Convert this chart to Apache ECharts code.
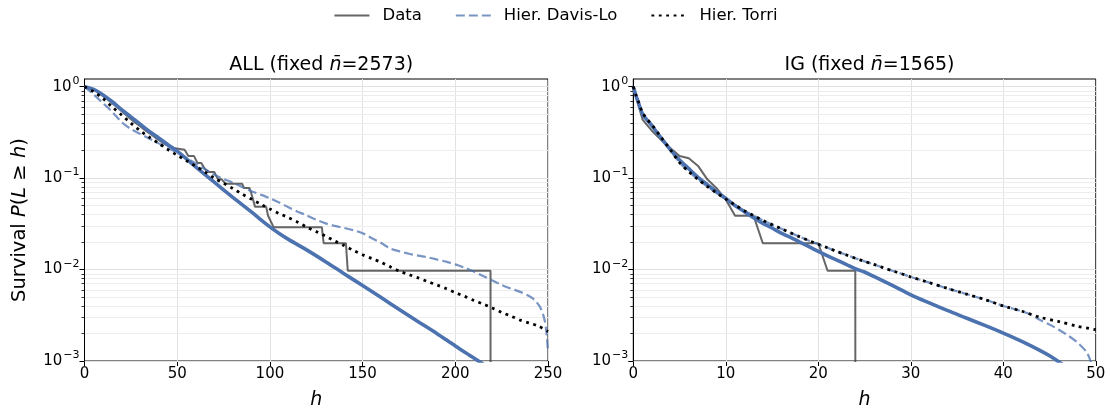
<!DOCTYPE html>
<html><head><meta charset="utf-8">
<script src="https://cdn.jsdelivr.net/npm/echarts@6/dist/echarts.min.js"></script>
<style>html,body{margin:0;padding:0;background:#fff}#c{width:1111px;height:412px}</style>
</head><body><div id="c"></div>
<script>
// ---------- ALL panel (fixed n̄=2573) ----------
const allDataH = [0,3,6,9,12,15,18,21,24,27,30,33,36,39,42,45,48,49,54,56,59,61,63,65,66,67,70,72,74,76,85,86,89,90,92,98,99,100,102,128,129,141,142,219,220];
const allDataP = [1.0,0.96,0.90,0.82,0.74,0.66,0.59,0.52,0.46,0.41,0.37,0.33,0.30,0.27,0.245,0.225,0.214,0.204,0.204,0.175,0.175,0.146,0.146,0.126,0.126,0.117,0.117,0.097,0.097,0.087,0.087,0.078,0.078,0.068,0.0485,0.0485,0.0388,0.0388,0.0291,0.0291,0.0194,0.0194,0.0097,0.0097,0];

const allModelH = [0,5,10,15,20,25,30,35,40,45,50,60,70,80,90,95,100,105,110,120,130,140,150,160,170,180,190,200,210,220];
const allModelP = [1.0,0.933,0.813,0.684,0.562,0.468,0.389,0.324,0.275,0.232,0.197,0.133,0.0902,0.0617,0.0427,0.0352,0.0293,0.0248,0.0214,0.0163,0.0122,0.00902,0.00668,0.00495,0.00363,0.00269,0.00200,0.00146,0.00108,0.00079];

const allDavisH = [0,5,10,15,20,25,30,35,40,45,50,55,60,65,70,75,80,85,90,95,100,105,110,115,120,125,130,135,140,145,150,155,160,165,170,175,180,185,190,195,200,205,210,215,220,225,230,235,240,243,246,248,249,250];
const allDavisP = [1.0,0.82,0.66,0.53,0.41,0.345,0.305,0.27,0.24,0.213,0.19,0.165,0.145,0.125,0.109,0.098,0.089,0.080,0.072,0.066,0.060,0.054,0.048,0.043,0.039,0.035,0.032,0.030,0.0285,0.027,0.025,0.022,0.0195,0.017,0.0158,0.0149,0.0142,0.0136,0.0129,0.0122,0.0114,0.0105,0.0095,0.0085,0.0076,0.0068,0.0062,0.0057,0.0051,0.0046,0.0038,0.0029,0.0022,0.0013];

const allTorriH = [0,5,10,15,20,25,30,35,40,45,50,55,60,65,70,75,80,85,90,95,100,105,110,115,120,125,130,135,140,145,150,155,160,165,170,175,180,185,190,195,200,205,210,215,220,225,230,235,240,245,250];
const allTorriP = [1.0,0.88,0.74,0.60,0.49,0.40,0.33,0.28,0.24,0.205,0.178,0.155,0.135,0.117,0.100,0.088,0.077,0.067,0.059,0.052,0.046,0.041,0.037,0.033,0.029,0.026,0.0232,0.0205,0.0183,0.0162,0.0145,0.0132,0.0120,0.0107,0.0096,0.0088,0.0081,0.0074,0.0068,0.0062,0.0056,0.0051,0.0046,0.0042,0.0038,0.0034,0.0031,0.0028,0.0026,0.0024,0.0021];

// ---------- IG panel (fixed n̄=1565) ----------
const igDataH = [0,1,2,3,4,5,6,7,8,9,10,11,12,13,14,15,16,17,18,19,20,21,22,23,24,25];
const igDataP = [1.0,0.437,0.33,0.262,0.214,0.175,0.165,0.136,0.097,0.0777,0.0583,0.0388,0.0388,0.0388,0.0194,0.0194,0.0194,0.0194,0.0194,0.0194,0.0194,0.0097,0.0097,0.0097,0.0097,0];

const igModelH = [0,0.25,0.5,1,1.5,2,3,4,5,6,7,8,9,10,11,12,13,14,15,16,17,18,19,20,21,22,23,24,25,26,28,30,32,34,36,38,40,42,44,45,46,47];
const igModelP = [1.0,0.82,0.69,0.50,0.43,0.375,0.275,0.205,0.158,0.127,0.102,0.085,0.071,0.060,0.050,0.043,0.037,0.032,0.0285,0.025,0.0225,0.020,0.0178,0.0158,0.0141,0.0127,0.0114,0.0102,0.0094,0.0084,0.0067,0.0053,0.00432,0.00355,0.00295,0.00245,0.00202,0.00164,0.0013,0.00114,0.00098,0.00083];

const igTorriH = [0,0.25,0.5,1,1.5,2,3,4,5,6,7,8,9,10,11,12,13,14,15,16,17,18,19,20,21,22,23,24,25,26,27,28,29,30,32,34,36,38,40,42,44,46,48,50];
const igTorriP = [1.0,0.83,0.71,0.52,0.44,0.385,0.28,0.205,0.148,0.118,0.097,0.081,0.069,0.059,0.051,0.044,0.039,0.0345,0.031,0.028,0.0252,0.0228,0.0207,0.0189,0.0173,0.0158,0.0145,0.0133,0.0123,0.0114,0.0105,0.0097,0.0090,0.0083,0.0072,0.0062,0.0054,0.0047,0.0040,0.0035,0.0030,0.0027,0.0024,0.0022];

const igDavisH = [0,0.25,0.5,1,1.5,2,3,4,5,6,7,8,9,10,11,12,13,14,15,16,17,18,19,20,21,22,23,24,25,26,27,28,29,30,32,34,36,38,40,42,43,44,45,46,47,48,49,49.5,50];
const igDavisP = [1.0,0.83,0.71,0.52,0.44,0.385,0.28,0.205,0.148,0.118,0.097,0.081,0.069,0.059,0.051,0.044,0.039,0.0345,0.031,0.028,0.0252,0.0228,0.0207,0.0189,0.0173,0.0158,0.0145,0.0133,0.0123,0.0114,0.0105,0.0097,0.0090,0.0083,0.0072,0.0062,0.0054,0.0047,0.0040,0.0035,0.0032,0.0028,0.0025,0.0022,0.0019,0.0016,0.00125,0.00095,0.0006];

// ---------- axes / labels ----------
const yMajorTicks = [0.001, 0.01, 0.1, 1];
const yMinorTicks = [0.002,0.003,0.004,0.005,0.006,0.007,0.008,0.009,0.02,0.03,0.04,0.05,0.06,0.07,0.08,0.09,0.2,0.3,0.4,0.5,0.6,0.7,0.8,0.9];
const legendNames = ['Data', 'Hier. Davis-Lo', 'Hier. Torri'];
const titles = [['ALL (fixed ', '=2573)'], ['IG (fixed ', '=1565)']];

const FONT = 'DejaVu Sans';
const ZERO_FLOOR = 1e-300; // survival 0 -> drawn below the log-axis floor (clipped)

function pts(h, p) { return h.map((x, i) => [x, p[i] > 0 ? p[i] : ZERO_FLOOR]); }

const gridBoxes = [
  {left: 84.5, top: 79, width: 463.5, height: 282},
  {left: 633.3, top: 79, width: 462.5, height: 282}
];
const xRanges = [{max: 250, interval: 50}, {max: 50, interval: 10}];

function powLabel(v) {
  const e = Math.round(Math.log10(v));
  return '{b|10}{s|' + (e < 0 ? '\u2212' + (-e) : e) + '}';
}

function yAxes(gi) {
  const base = {type: 'log', logBase: 10, gridIndex: gi, min: 0.001, max: 1.214, position: 'left'};
  const major = Object.assign({}, base, {
    axisLine: {show: true, onZero: false, lineStyle: {color: '#000', width: 1}},
    axisTick: {show: true, length: 5, lineStyle: {color: '#000', width: 1}, customValues: yMajorTicks},
    axisLabel: {show: true, customValues: yMajorTicks, color: '#000', margin: 5, formatter: powLabel,
      rich: {
        b: {fontSize: 15, fontFamily: FONT, color: '#000'},
        s: {fontSize: 11, fontFamily: FONT, color: '#000', padding: [0, 0, 11, 1]}
      }},
    splitLine: {show: true, lineStyle: {color: '#e2e2e2', width: 1}},
    z: 3
  });
  if (gi === 0) {
    Object.assign(major, {
      name: 'Survival {i|P}({i|L} ≥ {i|h})', nameLocation: 'middle', nameGap: 55,
      nameTextStyle: {fontSize: 19.5, fontFamily: FONT, color: '#000',
        rich: {i: {fontSize: 19.5, fontFamily: FONT, fontStyle: 'italic', color: '#000'}}}
    });
  }
  const minor = Object.assign({}, base, {
    axisLine: {show: false},
    axisTick: {show: true, length: 3, lineStyle: {color: '#000', width: 0.8}, customValues: yMinorTicks},
    axisLabel: {show: false},
    splitLine: {show: true, lineStyle: {color: '#ededed', width: 1}},
    z: 2
  });
  return [major, minor];
}

function xAxis(gi) {
  return {
    type: 'value', gridIndex: gi, min: 0, max: xRanges[gi].max, interval: xRanges[gi].interval,
    axisLine: {show: true, onZero: false, lineStyle: {color: '#000', width: 1}},
    axisTick: {show: true, length: 5, lineStyle: {color: '#000', width: 1}},
    axisLabel: {fontSize: 15, fontFamily: FONT, color: '#000', margin: 6},
    splitLine: {show: true, lineStyle: {color: '#e2e2e2', width: 1}},
    name: 'h', nameLocation: 'middle', nameGap: 30,
    nameTextStyle: {fontSize: 19, fontFamily: FONT, fontStyle: 'italic', color: '#000'}
  };
}

const COL_DATA = 'rgba(64,64,64,0.8)';
const COL_MODEL = '#4C72B0';
const COL_DAVIS = 'rgba(76,114,176,0.75)';
const COL_TORRI = '#000000';

function seriesFor(gi, d) {
  const ax = {xAxisIndex: gi, yAxisIndex: gi * 2};
  return [
    Object.assign({name: 'Data', type: 'line', data: pts(d.dataH, d.dataP), symbol: 'none', showSymbol: false, clip: true,
      lineStyle: {color: COL_DATA, width: 2}, itemStyle: {color: COL_DATA}, z: 4}, ax),
    Object.assign({name: 'Model', type: 'line', data: pts(d.modelH, d.modelP), symbol: 'none', showSymbol: false, clip: true, smooth: 0.3,
      lineStyle: {color: COL_MODEL, width: 3.6}, itemStyle: {color: COL_MODEL}, z: 5}, ax),
    Object.assign({name: 'Hier. Davis-Lo', type: 'line', data: pts(d.davisH, d.davisP), symbol: 'none', showSymbol: false, clip: true, smooth: 0.3,
      lineStyle: {color: COL_DAVIS, width: 2.2, type: [9, 4]}, itemStyle: {color: COL_DAVIS}, z: 6}, ax),
    Object.assign({name: 'Hier. Torri', type: 'line', data: pts(d.torriH, d.torriP), symbol: 'none', showSymbol: false, clip: true, smooth: 0.3,
      lineStyle: {color: COL_TORRI, width: 2.8, type: [2.8, 4.6]}, itemStyle: {color: COL_TORRI}, z: 7}, ax)
  ];
}

const chart = echarts.init(document.getElementById('c'), null, {renderer: 'canvas'});
chart.setOption({
  animation: false,
  backgroundColor: '#fff',
  textStyle: {fontFamily: FONT},
  title: titles.map((t, i) => ({
    text: '{a|' + t[0] + '}{i|n\u0304}{a|' + t[1] + '}',
    left: gridBoxes[i].left + gridBoxes[i].width / 2, top: 51, textAlign: 'center',
    textStyle: {fontWeight: 'normal', rich: {
      a: {fontSize: 19, fontFamily: FONT, fontWeight: 'normal', color: '#000'},
      i: {fontSize: 19, fontFamily: FONT, fontWeight: 'normal', fontStyle: 'italic', color: '#000'}
    }}
  })),
  legend: {
    data: legendNames, top: 2, left: 'center', itemWidth: 35, itemHeight: 14, itemGap: 33,
    itemStyle: {opacity: 0},
    textStyle: {fontSize: 16.5, fontFamily: FONT, color: '#000', padding: [0, 0, 0, 8]}
  },
  grid: gridBoxes.map(g => Object.assign({show: true, borderColor: '#000', borderWidth: 1,
    backgroundColor: 'transparent', containLabel: false, outerBoundsMode: 'none'}, g)),
  xAxis: [xAxis(0), xAxis(1)],
  yAxis: [...yAxes(0), ...yAxes(1)],
  series: [
    ...seriesFor(0, {dataH: allDataH, dataP: allDataP, modelH: allModelH, modelP: allModelP,
      davisH: allDavisH, davisP: allDavisP, torriH: allTorriH, torriP: allTorriP}),
    ...seriesFor(1, {dataH: igDataH, dataP: igDataP, modelH: igModelH, modelP: igModelP,
      davisH: igDavisH, davisP: igDavisP, torriH: igTorriH, torriP: igTorriP})
  ]
});
</script>
</body></html>
